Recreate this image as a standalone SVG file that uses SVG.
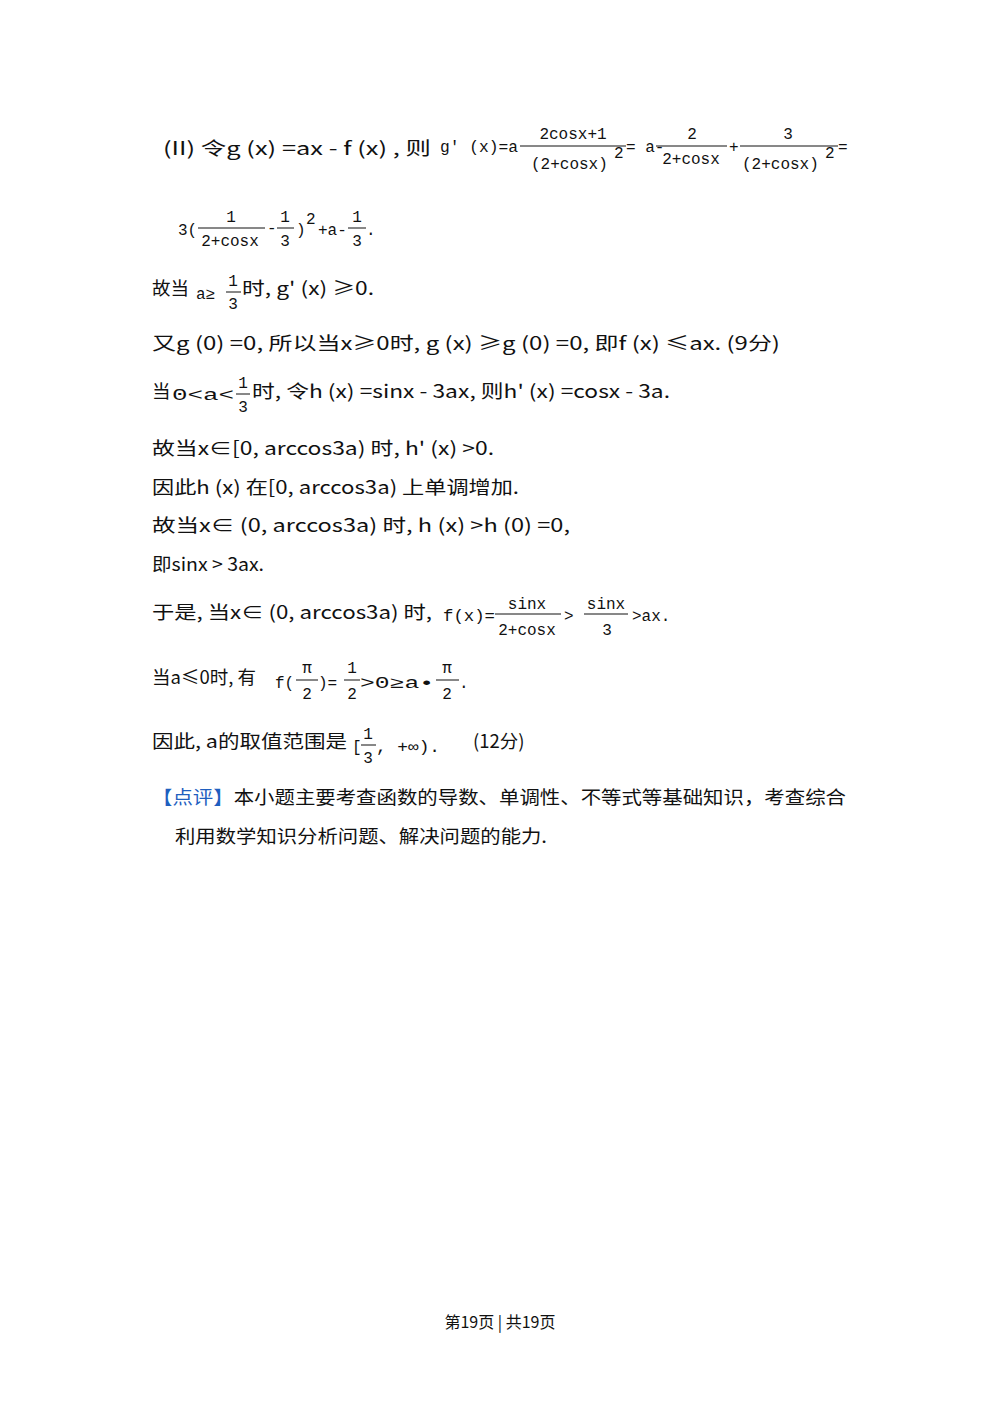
<svg xmlns="http://www.w3.org/2000/svg" width="1000" height="1416" viewBox="0 0 1000 1416">
<style>
.t{font-family:"Noto Sans CJK SC","Noto Sans",sans-serif;font-size:18.5px;fill:#111}
.m{font-family:"Liberation Mono","Noto Sans CJK SC",monospace;font-size:16px;fill:#111}
.c{text-anchor:middle}
.b{stroke:#111;stroke-width:1}
.blue{fill:#1f5fbf}
</style>
<rect width="1000" height="1416" fill="#fff"/>
<g id="line1">
<text class="t" x="163" y="155" textLength="268" lengthAdjust="spacingAndGlyphs">(II) 令g (x) =ax - f (x) , 则</text>
<text class="m" x="440" y="152" textLength="78" lengthAdjust="spacingAndGlyphs">g′ (x)=a</text>
<text class="m c" x="573" y="139">2cosx+1</text><line class="b" x1="520" y1="146" x2="626" y2="146"/>
<text class="m" x="531" y="169">(2+cosx)</text><text class="m" x="614" y="158">2</text>
<text class="m" x="626" y="152">= a-</text>
<text class="m c" x="692" y="139">2</text><line class="b" x1="656" y1="146" x2="727" y2="146"/>
<text class="m c" x="691" y="164">2+cosx</text>
<text class="m" x="729" y="152">+</text>
<text class="m c" x="788" y="139">3</text><line class="b" x1="740" y1="146" x2="838" y2="146"/>
<text class="m" x="742" y="169">(2+cosx)</text><text class="m" x="825" y="158">2</text>
<text class="m" x="838" y="152">=</text>
</g>
<g id="line2">
<text class="m" x="178" y="235">3(</text>
<text class="m c" x="231" y="222">1</text><line class="b" x1="198" y1="228" x2="265" y2="228"/>
<text class="m c" x="230" y="246">2+cosx</text>
<text class="m" x="267" y="233">-</text>
<text class="m c" x="285" y="222">1</text><line class="b" x1="277" y1="228" x2="294" y2="228"/><text class="m c" x="285" y="246">3</text>
<text class="m" x="296" y="235">)</text><text class="m" x="306" y="224">2</text>
<text class="m" x="318" y="235">+a-</text>
<text class="m c" x="357" y="222">1</text><line class="b" x1="348" y1="228" x2="366" y2="228"/><text class="m c" x="357" y="246">3</text>
<text class="m" x="366" y="235">.</text>
</g>
<g id="line3">
<text class="t" x="152" y="295">故当</text>
<text class="m" x="196" y="299">a≥</text>
<text class="m c" x="233" y="286">1</text><line class="b" x1="226" y1="292" x2="241" y2="292"/><text class="m c" x="233" y="309">3</text>
<text class="t" x="242" y="295" textLength="132" lengthAdjust="spacingAndGlyphs">时, g' (x) ≥0.</text>
</g>
<g id="line4"><text class="t" x="152" y="350" textLength="628" lengthAdjust="spacingAndGlyphs">又g (0) =0, 所以当x≥0时, g (x) ≥g (0) =0, 即f (x) ≤ax.   (9分)</text></g>
<g id="line5">
<text class="t" x="152" y="398">当</text><text class="m" x="172" y="400" textLength="62" lengthAdjust="spacingAndGlyphs">0&lt;a&lt;</text>
<text class="m c" x="243" y="388">1</text><line class="b" x1="236" y1="394" x2="250" y2="394"/><text class="m c" x="243" y="412">3</text>
<text class="t" x="252" y="398" textLength="418" lengthAdjust="spacingAndGlyphs">时, 令h (x) =sinx - 3ax, 则h' (x) =cosx - 3a.</text>
</g>
<g id="line6"><text class="t" x="152" y="455" textLength="342" lengthAdjust="spacingAndGlyphs">故当x∈[0, arccos3a) 时, h' (x) &gt;0.</text></g>
<g id="line7"><text class="t" x="152" y="494" textLength="367" lengthAdjust="spacingAndGlyphs">因此h (x) 在[0, arccos3a) 上单调增加.</text></g>
<g id="line8"><text class="t" x="152" y="532" textLength="418" lengthAdjust="spacingAndGlyphs">故当x∈ (0, arccos3a) 时, h (x) &gt;h (0) =0,</text></g>
<g id="line9"><text class="t" x="152" y="571" textLength="112" lengthAdjust="spacingAndGlyphs">即sinx &gt; 3ax.</text></g>
<g id="line10">
<text class="t" x="152" y="619" textLength="280" lengthAdjust="spacingAndGlyphs">于是, 当x∈ (0, arccos3a) 时,</text>
<text class="m" x="443" y="621" textLength="52" lengthAdjust="spacingAndGlyphs">f(x)=</text>
<text class="m c" x="527" y="609">sinx</text><line class="b" x1="495" y1="614" x2="561" y2="614"/><text class="m c" x="527" y="635">2+cosx</text>
<text class="m" x="564" y="621">&gt;</text>
<text class="m c" x="606" y="609">sinx</text><line class="b" x1="584" y1="614" x2="628" y2="614"/><text class="m c" x="607" y="635">3</text>
<text class="m" x="632" y="621">&gt;ax.</text>
</g>
<g id="line11">
<text class="t" x="152" y="684">当a≤0时, 有</text>
<text class="m" x="275" y="688">f(</text>
<text class="m c" x="307" y="673">π</text><line class="b" x1="296" y1="680" x2="318" y2="680"/><text class="m c" x="307" y="699">2</text>
<text class="m" x="318" y="688">)=</text>
<text class="m c" x="352" y="673">1</text><line class="b" x1="344" y1="680" x2="360" y2="680"/><text class="m c" x="352" y="699">2</text>
<text class="m" x="360" y="688" textLength="74" lengthAdjust="spacingAndGlyphs">&gt;0≥a•</text>
<text class="m c" x="447" y="673">π</text><line class="b" x1="436" y1="680" x2="459" y2="680"/><text class="m c" x="447" y="699">2</text>
<text class="m" x="459" y="688">.</text>
</g>
<g id="line12">
<text class="t" x="152" y="748" textLength="195" lengthAdjust="spacingAndGlyphs">因此, a的取值范围是</text>
<text class="m" x="352" y="752">[</text>
<text class="m c" x="368" y="739">1</text><line class="b" x1="361" y1="745" x2="376" y2="745"/><text class="m c" x="368" y="763">3</text>
<text class="m" x="376" y="752" textLength="64" lengthAdjust="spacingAndGlyphs">, +∞).</text>
<text class="t" x="473" y="748">(12分)</text>
</g>
<g id="line13">
<text class="t" x="152" y="804" textLength="694" lengthAdjust="spacingAndGlyphs"><tspan class="blue">【点评】</tspan>本小题主要考查函数的导数、单调性、不等式等基础知识，考查综合</text>
<text class="t" x="175" y="843" textLength="372" lengthAdjust="spacingAndGlyphs">利用数学知识分析问题、解决问题的能力.</text>
</g>
<g id="footer"><text class="t c" x="500" y="1328" style="font-size:16px">第19页 | 共19页</text></g>
<g id="connectors"/>
</svg>
